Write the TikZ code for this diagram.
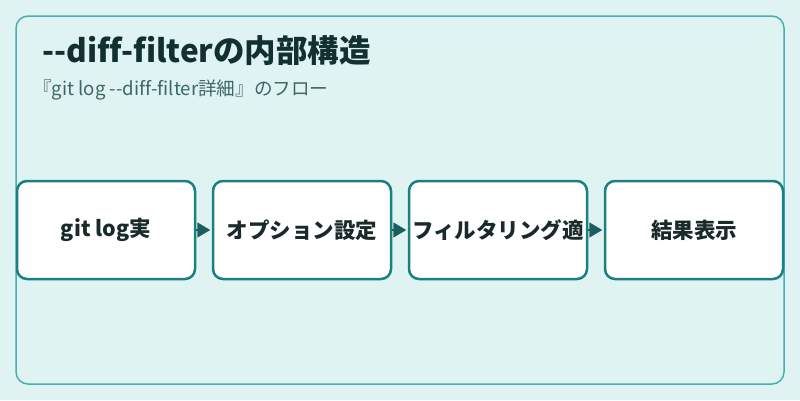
\documentclass[tikz,border=0pt]{standalone}
\usepackage{fontspec}
\setmainfont{Noto Sans CJK JP}[Ligatures=NoCommon]
\usetikzlibrary{arrows.meta}
\definecolor{bgc}{HTML}{DFF3F2}
\definecolor{outer}{HTML}{4AAFAF}
\definecolor{boxb}{HTML}{1A8080}
\definecolor{arr}{HTML}{1B5E5E}
\definecolor{titlec}{HTML}{123030}
\definecolor{subc}{HTML}{3D6666}
\definecolor{txt}{HTML}{1A2A2A}
\tikzset{
  stepbox/.style={draw=boxb, line width=2.5pt, fill=white, rounded corners=10pt,
    minimum width=178pt, minimum height=98pt, inner sep=0pt,
    font=\fontsize{21.5}{24}\selectfont\bfseries, text=txt},
  flow/.style={draw=arr, line width=1.5pt, -{Triangle[length=13pt,width=15pt]}, shorten >=1.5pt, color=arr}
}
\begin{document}
\begin{tikzpicture}[x=1pt,y=-1pt]
\fill[bgc] (0,0) rectangle (800,400);
\useasboundingbox (0,0) rectangle (800,400);
\draw[outer, line width=1.5pt, rounded corners=12pt] (16,16) rectangle (784,384);
\node[anchor=base west, inner sep=0pt, font=\fontsize{31.5}{34}\selectfont\bfseries, text=titlec] (title) at (42,62) {-{}-diff-filterの内部構造};
\node[anchor=base west, inner sep=0pt, font=\fontsize{18.6}{22}\selectfont, text=subc] (sub) at (33,95) {『git log -{}-diff-filter詳細』のフロー};
\node[stepbox] (b1) at (106,230) {git log実};
\node[stepbox] (b2) at (302,230) {オプション設定};
\node[stepbox] (b3) at (498,230) {フィルタリング適};
\node[stepbox] (b4) at (694,230) {結果表示};
\draw[flow] (b1.east) -- (b2.west);
\draw[flow] (b2.east) -- (b3.west);
\draw[flow] (b3.east) -- (b4.west);
\end{tikzpicture}
\end{document}
